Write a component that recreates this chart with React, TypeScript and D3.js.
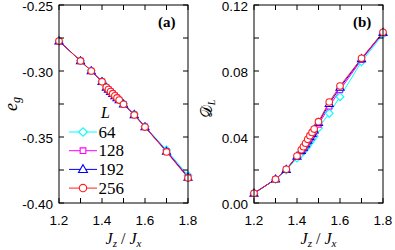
import * as d3 from 'd3'

const jz = [1.2, 1.3, 1.35, 1.4, 1.42, 1.43, 1.44, 1.45, 1.46, 1.47, 1.48, 1.5, 1.55, 1.6, 1.7, 1.8]

const eg64 = [-0.2773, -0.2922, -0.2997, -0.3078, -0.3122, -0.3138, -0.3154, -0.317, -0.3186, -0.3201, -0.3216, -0.3246, -0.3325, -0.342, -0.3598, -0.379]
const eg128 = [-0.2773, -0.2923, -0.2999, -0.308, -0.3123, -0.3139, -0.3155, -0.3171, -0.3187, -0.3203, -0.3218, -0.325, -0.333, -0.3422, -0.3606, -0.3801]
const eg192 = [-0.2773, -0.2924, -0.3, -0.3081, -0.3124, -0.314, -0.3156, -0.3172, -0.3188, -0.3203, -0.3219, -0.3251, -0.3332, -0.3424, -0.3609, -0.3806]
const eg256 = [-0.2773, -0.2924, -0.3, -0.3081, -0.3124, -0.314, -0.3156, -0.3172, -0.3188, -0.3204, -0.322, -0.3252, -0.3333, -0.3425, -0.3613, -0.381]

const d64 = [0.0059, 0.0143, 0.02, 0.0272, 0.03, 0.0315, 0.0332, 0.035, 0.0368, 0.0386, 0.0404, 0.0455, 0.0544, 0.0644, 0.0856, 0.1022]
const d128 = [0.0059, 0.0144, 0.0202, 0.028, 0.0312, 0.033, 0.0349, 0.037, 0.039, 0.041, 0.043, 0.0475, 0.0585, 0.0685, 0.0868, 0.103]
const d192 = [0.0059, 0.0144, 0.0203, 0.0283, 0.0318, 0.0337, 0.0357, 0.038, 0.0401, 0.0421, 0.0441, 0.0487, 0.0602, 0.07, 0.0874, 0.1033]
const d256 = [0.0059, 0.0144, 0.0204, 0.0285, 0.0322, 0.0341, 0.0362, 0.0386, 0.0408, 0.0428, 0.0448, 0.0493, 0.0612, 0.0709, 0.0877, 0.1035]

const sizes = ['64', '128', '192', '256']
const colors = ['#00ffff', '#ff00ff', '#0000ff', '#ff2020']
const shapes = ['diamond', 'square', 'triangle', 'circle']

const xTicks = [1.2, 1.4, 1.6, 1.8]
const xMinor = [1.3, 1.5, 1.7]
const egTicks = [-0.25, -0.3, -0.35, -0.4]
const egMinor = [-0.275, -0.325, -0.375]
const dTicks = [0, 0.04, 0.08, 0.12]
const dMinor = [0.02, 0.06, 0.1]

const top = 5
const bottom = 203
const serif = 'Liberation Serif, DejaVu Serif, serif'
const sans = 'Liberation Sans, Arial, sans-serif'

function Marker({ shape, x, y, color, big }: { shape: string; x: number; y: number; color: string; big?: boolean }) {
  const k = big ? 1.25 : 1
  if (shape === 'circle') {
    return <circle cx={x} cy={y} r={3.3 * Math.sqrt(k)} fill="white" stroke={color} strokeWidth={1.1} />
  }
  if (shape === 'diamond') {
    const p = d3.symbol(d3.symbolSquare, 30 * k)()
    return <path d={p ?? ''} transform={`translate(${x},${y}) rotate(45)`} fill="white" stroke={color} strokeWidth={1.1} />
  }
  if (shape === 'square') {
    const p = d3.symbol(d3.symbolSquare, 26 * k)()
    return <path d={p ?? ''} transform={`translate(${x},${y})`} fill="white" stroke={color} strokeWidth={1.1} />
  }
  const p = d3.symbol(d3.symbolTriangle, 28 * k)()
  return <path d={p ?? ''} transform={`translate(${x},${y + 0.5})`} fill="white" stroke={color} strokeWidth={1.1} />
}

function Panel({
  left,
  series,
  yDomain,
  yTicks,
  yMinor,
  tag,
  children,
}: {
  left: number
  series: number[][]
  yDomain: [number, number]
  yTicks: number[]
  yMinor: number[]
  tag: string
  children?: any
}) {
  const x = d3.scaleLinear().domain([1.2, 1.8]).range([left, left + 129])
  const y = d3.scaleLinear().domain(yDomain).range([bottom, top])
  const line = d3
    .line<number>()
    .x((_, i) => x(jz[i]))
    .y((d) => y(d))
  const x0 = left
  const x1 = left + 129
  return (
    <g>
      {series.map((s, k) => (
        <path key={`l${k}`} d={line(s) ?? ''} fill="none" stroke={colors[k]} strokeWidth={1} />
      ))}
      {series.map((s, k) =>
        s.map((v, i) => <Marker key={`m${k}-${i}`} shape={shapes[k]} x={x(jz[i])} y={y(v)} color={colors[k]} />),
      )}
      <rect x={x0} y={top} width={129} height={bottom - top} fill="none" stroke="black" strokeWidth={1} />
      {[...xTicks, ...xMinor].map((t) => (
        <g key={`xt${t}`}>
          <line x1={x(t)} x2={x(t)} y1={bottom} y2={bottom - 5} stroke="black" />
          <line x1={x(t)} x2={x(t)} y1={top} y2={top + 5} stroke="black" />
        </g>
      ))}
      {[...yTicks, ...yMinor].map((t) => (
        <g key={`yt${t}`}>
          <line x1={x0} x2={x0 + 5} y1={y(t)} y2={y(t)} stroke="black" />
          <line x1={x1} x2={x1 - 5} y1={y(t)} y2={y(t)} stroke="black" />
        </g>
      ))}
      {xTicks.map((t) => (
        <text key={`xl${t}`} x={x(t)} y={225} textAnchor="middle" fontFamily={sans} fontSize={13.5}>
          {t.toFixed(1)}
        </text>
      ))}
      {yTicks.map((t) => (
        <text key={`yl${t}`} x={x0 - 6} y={y(t) + 5.5} textAnchor="end" fontFamily={sans} fontSize={13.5}>
          {t.toFixed(2)}
        </text>
      ))}
      <text x={(x0 + x1) / 2} y={244} textAnchor="middle" fontFamily={serif} fontStyle="italic" fontSize={16}>
        J<tspan fontSize={11} dy={3}>z</tspan>
        <tspan dy={-3} fontStyle="normal"> / </tspan>J<tspan fontSize={11} dy={3}>x</tspan>
      </text>
      <text x={x1 - 30} y={27} fontFamily={serif} fontWeight="bold" fontSize={15}>
        ({tag})
      </text>
      {children}
    </g>
  )
}

export default function App() {
  return (
    <svg width={395} height={250} style={{ position: 'absolute', left: 0, top: 0, background: 'white' }}>
      <Panel left={59} series={[eg64, eg128, eg192, eg256]} yDomain={[-0.4, -0.25]} yTicks={egTicks} yMinor={egMinor} tag="a">
        <text x={101} y={118} fontFamily={serif} fontStyle="italic" fontSize={16}>
          L
        </text>
        {sizes.map((s, k) => {
          const ly = 132 + k * 18.7
          return (
            <g key={s}>
              <line x1={69} x2={97} y1={ly} y2={ly} stroke={colors[k]} strokeWidth={1} />
              <Marker shape={shapes[k]} x={83} y={ly} color={colors[k]} big />
              <text x={98.5} y={ly + 5.5} fontFamily={serif} fontSize={17}>
                {s}
              </text>
            </g>
          )
        })}
        <text transform="translate(17,104) rotate(-90)" textAnchor="middle" fontFamily={serif} fontStyle="italic" fontSize={18}>
          e<tspan fontSize={12} dy={3}>g</tspan>
        </text>
      </Panel>
      <Panel left={254} series={[d64, d128, d192, d256]} yDomain={[0, 0.12]} yTicks={dTicks} yMinor={dMinor} tag="b">
        <text transform="translate(212,109) rotate(-90)" textAnchor="middle" fontFamily="DejaVu Serif, serif" fontSize={16}>
          𝒟<tspan fontSize={10} dy={3} fontFamily={serif} fontStyle="italic">L</tspan>
        </text>
      </Panel>
    </svg>
  )
}
